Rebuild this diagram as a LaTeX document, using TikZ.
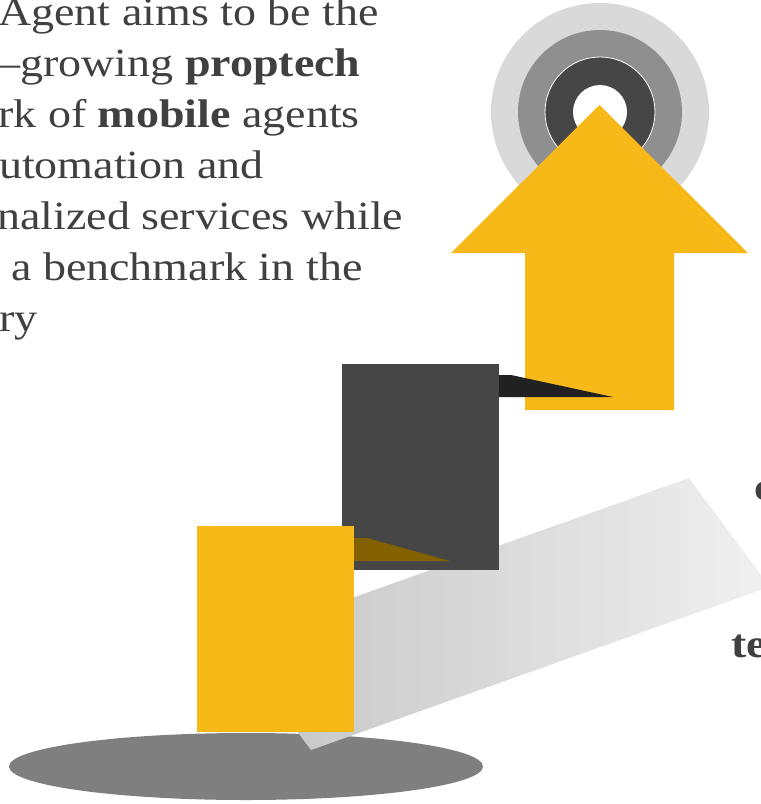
\documentclass[tikz,border=0pt]{standalone}
\usepackage{fontspec}
\newfontfamily\bodyfont[FakeStretch=1.15]{Liberation Serif}
\usetikzlibrary{positioning}
\definecolor{gold}{HTML}{F7B918}
\definecolor{slate}{HTML}{464646}
\definecolor{ink}{HTML}{404040}
\definecolor{umber}{HTML}{846100}
\definecolor{floor}{HTML}{7F7F7F}
\definecolor{beamL}{HTML}{C4C4C4}
\definecolor{beamR}{HTML}{F0F0F0}

\begin{document}
\begin{tikzpicture}[x=1pt, y=-1pt,
    line/.style={anchor=base west, inner sep=0pt, text=ink, font=\bodyfont\fontsize{40}{46}\selectfont},
    ring/.style={fill=#1, draw=none}]
    \useasboundingbox (0,0) rectangle (761,804);
    \clip (0,0) rectangle (761,804);

    % ground and beam
    \fill[floor] (246,766.5) ellipse [x radius=237pt, y radius=33.5pt];
    \shade[left color=beamL, right color=beamR] (230.3,641.3) -- (689,478) -- (769.7,586.7) -- (311,750) -- cycle;

    % steps
    \fill[slate] (342,364) rectangle (499,570);
    \fill[gold] (197,526) rectangle (354,732);
    \fill[umber] (354,538) -- (367,538) -- (450,561) -- (354,561) -- cycle;

    % target
    \fill[ring=black!15] (600,112) circle [radius=109pt];
    \fill[ring=black!44] (600,112) circle [radius=82pt];
    \filldraw[ring=slate, draw=white, line width=0.8pt] (600,112) circle [radius=55pt];
    \fill[ring=white] (600,112) circle [radius=27pt];

    % arrow
    \fill[gold] (525,410) -- (525,253) -- (451,253) -- (599.5,105) -- (748,253) -- (674,253) -- (674,410) -- cycle;
    \fill[black!87] (499,375) -- (511,375) -- (613,397) -- (499,397) -- cycle;

    % text
    \node[line] (L1) at (-2,25)  {Agent aims to be the};
    \node[line] (L2) at (-3,76)  {–growing \textbf{proptech}};
    \node[line] (L3) at (-2,127) {rk of \textbf{mobile} agents};
    \node[line] (L4) at (-1,178) {utomation and};
    \node[line] (L5) at (-3,229) {nalized services while};
    \node[line] (L6) at (11,280) {a benchmark in the};
    \node[line] (L7) at (-1,331) {ry};
    \node[line] (R1) at (754,500) {\textbf{c}};
    \node[line] (R2) at (731,657) {\textbf{te}};
\end{tikzpicture}
\end{document}
